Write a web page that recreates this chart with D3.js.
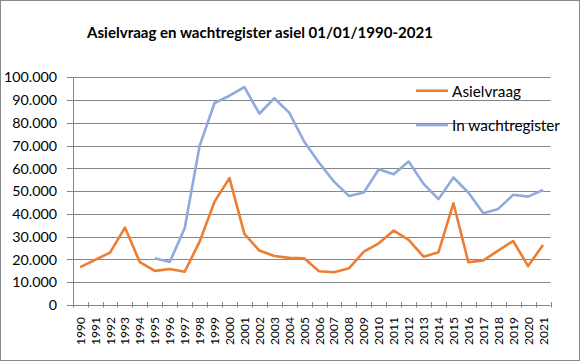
<!DOCTYPE html>
<html><head><meta charset="utf-8">
<script src="https://cdn.jsdelivr.net/npm/d3@7"></script>
<style>html,body{margin:0;padding:0;background:#fff;}</style>
</head><body>
<script>
const years = d3.range(1990, 2022).map(String);
const asielvraag = [16.6,19.8,23.0,34.0,18.8,15.0,15.8,14.6,27.8,45.4,55.7,31.2,23.9,21.5,20.7,20.5,14.8,14.4,16.1,23.4,27.1,32.7,28.6,21.2,23.2,44.7,18.8,19.6,23.9,28.1,17.1,26.4].map(v=>v*1000);
const wachtregister = [null,null,null,null,null,20.5,18.9,33.7,69.9,88.7,91.9,95.7,84.0,90.8,84.5,71.8,62.5,54.2,47.9,49.4,59.6,57.4,63.0,53.2,46.5,56.0,49.4,40.3,42.2,48.4,47.6,50.5].map(v=>v==null?null:v*1000);
const yTicks = [0,10000,20000,30000,40000,50000,60000,70000,80000,90000,100000];
const seriesNames = ["Asielvraag","In wachtregister"];
const colors = ["#ED7D31","#8FAADC"];
const title = "Asielvraag en wachtregister asiel 01/01/1990-2021";

const W=580,H=361;
const svg=d3.select("body").append("svg").attr("width",W).attr("height",H);
svg.append("rect").attr("x",0.5).attr("y",0.5).attr("width",W-1).attr("height",H-1).attr("fill","#fff").attr("stroke","#888");

const L=72.7,R=550.5,T=77.3,B=305;
const x=d3.scaleBand().domain(years).range([L,R]);
const y=d3.scaleLinear().domain([0,100000]).range([B,T]);
const fmt=v=>v===0?"0":d3.format(",")(v).replace(/,/g,".");
const font="Lato, 'Liberation Sans', Arial, sans-serif";

function fit(sel,target){const w=sel.node().getComputedTextLength();const fs=parseFloat(sel.attr("font-size"));const n=fs*target/w;sel.attr("font-size",n);return n;}

// grid
svg.append("g").selectAll("line").data(yTicks).join("line")
 .attr("x1",67).attr("x2",R).attr("y1",d=>Math.round(y(d))+0.5).attr("y2",d=>Math.round(y(d))+0.5)
 .attr("stroke","#868686").attr("stroke-width",1);
svg.append("line").attr("x1",Math.round(L)+0.5).attr("x2",Math.round(L)+0.5).attr("y1",T).attr("y2",B+2).attr("stroke","#868686");
const bounds=years.map(d=>x(d)).concat([R]);
svg.append("g").selectAll("line").data(bounds).join("line")
 .attr("x1",d=>Math.round(d)+0.5).attr("x2",d=>Math.round(d)+0.5).attr("y1",B-3).attr("y2",B+2.5).attr("stroke","#868686");

// y labels
const yl=svg.append("g").selectAll("text").data(yTicks).join("text")
 .attr("x",57).attr("y",d=>y(d)).attr("dy","0.36em").attr("text-anchor","end")
 .attr("font-family",font).attr("font-size",15).attr("fill","#000").text(fmt);
const yfs=fit(d3.select(yl.nodes()[10]),53);
yl.attr("font-size",yfs);
// x labels
const xl=svg.append("g").selectAll("text").data(years).join("text")
 .attr("transform",d=>`translate(${x(d)+x.bandwidth()/2+4.5},317) rotate(-90)`)
 .attr("text-anchor","end").attr("font-family",font).attr("font-size",13).attr("fill","#000").text(d=>d);
const xfs=fit(d3.select(xl.nodes()[0]),28);
xl.attr("font-size",xfs);

const line=d3.line().defined(d=>d.v!=null).x(d=>x(d.year)+x.bandwidth()/2).y(d=>y(d.v));
[asielvraag,wachtregister].forEach((arr,i)=>{
 svg.append("path").datum(years.map((yr,j)=>({year:yr,v:arr[j]})))
  .attr("d",line).attr("fill","none").attr("stroke",colors[i]).attr("stroke-width",2.6).attr("stroke-linejoin","round");
});

// legend
const lg=[{y:90.7,ty:96.5},{y:125,ty:131}];
let lfs=16;
seriesNames.forEach((n,i)=>{
 svg.append("line").attr("x1",416).attr("x2",448).attr("y1",lg[i].y).attr("y2",lg[i].y).attr("stroke",colors[i]).attr("stroke-width",2.6);
 const t=svg.append("text").attr("x",452).attr("y",lg[i].ty).attr("font-family",font).attr("font-size",16).attr("fill","#000").text(n);
 t.classed("lg",true);
});
const lt=svg.selectAll("text.lg");
const lf=fit(d3.select(lt.nodes()[1]),108);
lt.attr("font-size",lf);
// title
const tt=svg.append("text").attr("x",260).attr("y",38).attr("text-anchor","middle").attr("font-family",font).attr("font-weight","bold").attr("font-size",15).attr("fill","#000").text(title);
fit(tt,346);
</script>
</body></html>
